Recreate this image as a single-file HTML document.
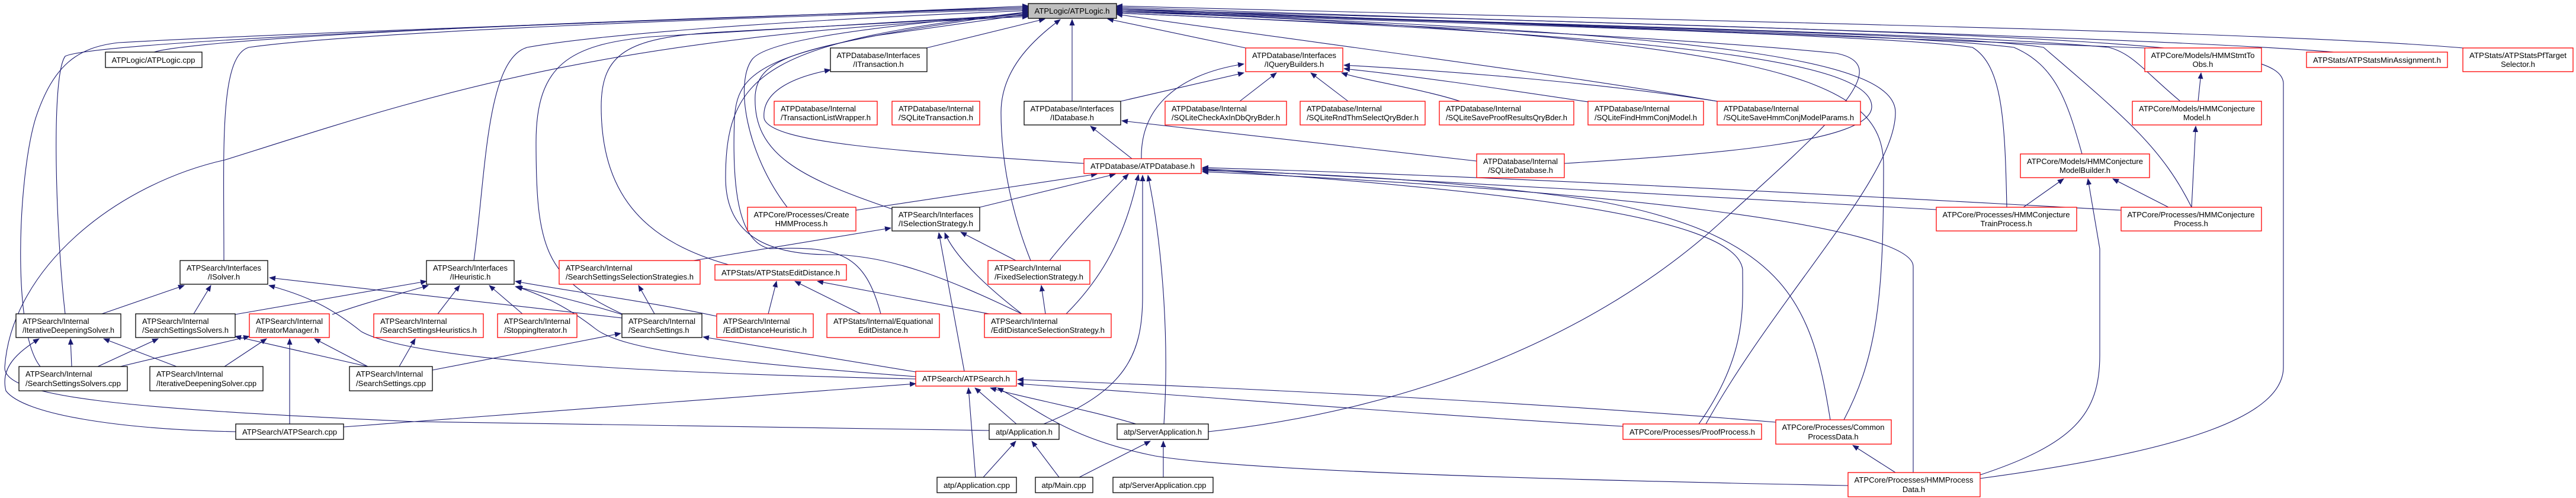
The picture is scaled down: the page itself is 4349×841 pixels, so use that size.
<!DOCTYPE html>
<html><head><meta charset="utf-8"><style>
html,body{margin:0;padding:0;background:#fff;}
svg{display:block;}
text{font-family:"Liberation Sans",Arial,sans-serif;font-size:13px;fill:#000;}
.e{fill:none;stroke:#191970;stroke-width:1.1;marker-end:url(#a);}
.b{fill:#fff;stroke:#000;stroke-width:1.3;}
.r{fill:#fff;stroke:#ff0000;stroke-width:1.3;}
.g{fill:#bfbfbf;stroke:#000;stroke-width:1.3;}
.c{text-anchor:middle;}
</style></head><body>
<svg width="4349" height="841" viewBox="0 0 4349 841" xmlns="http://www.w3.org/2000/svg">
<defs><marker id="a" markerWidth="11" markerHeight="9" refX="10" refY="4.5" orient="auto" markerUnits="userSpaceOnUse"><path d="M0,0 L11,4.5 L0,9 z" fill="#191970"/></marker></defs>
<rect width="4349" height="841" fill="#fff"/>
<g>
<path class="e" d="M260,88 C300,75 600,45 1736,14"/>
<path class="e" d="M378,440 C378,250 370,95 420,80 C600,55 1200,30 1736,16"/>
<path class="e" d="M800,440 C820,300 820,100 890,80 C1000,60 1300,35 1736,18"/>
<path class="e" d="M110,530 C95,400 85,130 110,95 C160,70 900,40 1736,12"/>
<path class="e" d="M68,619 C20,560 30,300 60,200 C90,110 130,80 200,72 C600,50 1300,30 1736,10"/>
<path class="e" d="M1670,727 L700,712 C200,690 5,670 8,620 C20,450 200,310 380,270 C700,170 1000,60 1736,28"/>
<path class="e" d="M1052,531 C920,470 905,420 905,240 C905,110 960,75 1100,62 L1736,24"/>
<path class="e" d="M1230,447 C1100,410 1015,340 1015,180 C1015,90 1060,65 1200,55 L1736,26"/>
<path class="e" d="M1329,350 C1260,260 1240,140 1270,100 C1290,75 1400,50 1736,22"/>
<path class="e" d="M1506,353 C1350,300 1270,260 1275,160 C1280,110 1320,90 1480,60 L1736,24"/>
<path class="e" d="M1487,530 C1460,430 1420,415 1300,420 C1250,410 1235,330 1240,200 C1245,110 1300,80 1736,20"/>
<path class="e" d="M1725,530 C1600,470 1500,430 1400,430 C1300,430 1225,400 1225,300 C1225,120 1300,70 1736,20"/>
<path class="e" d="M1564,81 L1764,32"/>
<path class="e" d="M1810,171 L1810,33"/>
<path class="e" d="M1740,440 C1700,340 1690,250 1690,190 C1690,120 1740,70 1790,33"/>
<path class="e" d="M2103,81 L1870,32"/>
<path class="e" d="M2899,171 C2600,120 2200,70 1885,24"/>
<path class="e" d="M2641,276 C2900,260 3160,240 3160,180 C3160,100 2800,60 1885,22"/>
<path class="e" d="M2880,716 C3000,500 3200,300 3200,190 C3200,100 2900,55 1885,20"/>
<path class="e" d="M3113,709 C3170,600 3180,500 3180,280 C3180,130 3000,65 1885,18"/>
<path class="e" d="M3343,808 C3700,760 3855,700 3855,620 L3855,140 C3850,75 3600,60 1885,16"/>
<path class="e" d="M3621,81 C3200,60 2500,40 1885,14"/>
<path class="e" d="M3940,88 C3600,60 2500,35 1885,12"/>
<path class="e" d="M4158,81 C3800,50 2600,30 1885,10"/>
<path class="e" d="M3681,171 C3620,120 3600,90 3560,80 C3300,55 2500,40 1885,16"/>
<path class="e" d="M3515,260 C3490,170 3470,110 3400,80 C3200,55 2500,40 1885,18"/>
<path class="e" d="M3388,350 C3385,200 3380,110 3330,80 C3200,60 2500,40 1885,20"/>
<path class="e" d="M3700,350 C3650,250 3590,200 3450,80 C3300,55 2500,40 1885,18"/>
<path class="e" d="M2040,729 C2400,690 2700,560 2900,380 C3100,200 3200,110 3100,90 C2800,60 2300,40 1885,22"/>
<path class="e" d="M1830,276 C1500,255 1300,240 1290,200 C1285,150 1350,128 1402,118"/>
<path class="e" d="M1911,268 L1841,213"/>
<path class="e" d="M1892,171 L2100,123"/>
<path class="e" d="M1927,268 C1925,180 1990,125 2100,108"/>
<path class="e" d="M2093,171 L2155,123"/>
<path class="e" d="M2493,272 L1894,204"/>
<path class="e" d="M2276,171 L2213,123"/>
<path class="e" d="M2465,171 C2400,150 2300,135 2265,123"/>
<path class="e" d="M2681,172 C2500,145 2400,130 2269,116"/>
<path class="e" d="M2899,171 C2700,140 2450,120 2269,110"/>
<path class="e" d="M1445,355 L1852,294"/>
<path class="e" d="M1654,350 L1883,294"/>
<path class="e" d="M1715,440 L1622,392"/>
<path class="e" d="M1772,440 C1820,380 1870,330 1905,294"/>
<path class="e" d="M1171,440 L1504,385"/>
<path class="e" d="M1297,530 L1311,475"/>
<path class="e" d="M1453,530 L1342,475"/>
<path class="e" d="M1670,530 L1380,475"/>
<path class="e" d="M1725,530 C1660,480 1610,430 1595,393"/>
<path class="e" d="M1800,530 C1860,470 1900,400 1922,295"/>
<path class="e" d="M1765,530 L1758,482"/>
<path class="e" d="M1628,627 L1585,393"/>
<path class="e" d="M1762,716 C1900,660 1929,600 1929,500 L1929,296"/>
<path class="e" d="M1965,716 C1975,560 1960,400 1938,296"/>
<path class="e" d="M1716,716 L1646,655"/>
<path class="e" d="M1918,716 C1830,690 1720,670 1672,655"/>
<path class="e" d="M1647,806 L1635,655"/>
<path class="e" d="M1660,806 L1715,745"/>
<path class="e" d="M1788,806 L1742,745"/>
<path class="e" d="M1822,806 L1942,745"/>
<path class="e" d="M1964,806 L1964,745"/>
<path class="e" d="M3120,820 C2600,810 2100,795 1950,770 C1800,740 1750,690 1684,655"/>
<path class="e" d="M2998,713 C2600,680 2100,655 1718,641"/>
<path class="e" d="M2740,720 C2400,700 2100,675 1718,648"/>
<path class="e" d="M2868,716 C2950,600 2942,520 2942,455 C2930,360 2500,320 2030,286"/>
<path class="e" d="M3090,709 C3060,520 3020,400 2700,340 C2500,310 2300,295 2030,288"/>
<path class="e" d="M3230,798 L3230,450 C3230,380 2700,320 2030,290"/>
<path class="e" d="M3200,798 L3128,752"/>
<path class="e" d="M3343,802 C3500,750 3545,700 3545,600 L3545,420 L3525,302"/>
<path class="e" d="M3416,350 L3484,302"/>
<path class="e" d="M3661,350 L3567,302"/>
<path class="e" d="M3700,350 L3707,213"/>
<path class="e" d="M3711,171 L3716,123"/>
<path class="e" d="M3269,354 C3000,340 2500,310 2030,285"/>
<path class="e" d="M3581,355 C3200,335 2600,300 2030,283"/>
<path class="e" d="M1050,537 L455,469"/>
<path class="e" d="M1050,531 C1000,515 920,495 870,484"/>
<path class="e" d="M1210,534 C1100,510 950,490 870,475"/>
<path class="e" d="M397,531 L720,475"/>
<path class="e" d="M561,531 C620,510 680,495 723,482"/>
<path class="e" d="M739,530 L776,482"/>
<path class="e" d="M882,530 L826,482"/>
<path class="e" d="M172,530 L311,482"/>
<path class="e" d="M327,530 L356,482"/>
<path class="e" d="M121,619 L119,572"/>
<path class="e" d="M298,619 L175,572"/>
<path class="e" d="M165,619 L267,572"/>
<path class="e" d="M621,619 L397,568"/>
<path class="e" d="M203,619 C280,600 350,585 421,568"/>
<path class="e" d="M379,619 L450,572"/>
<path class="e" d="M621,619 L531,572"/>
<path class="e" d="M489,716 L489,572"/>
<path class="e" d="M674,619 L701,572"/>
<path class="e" d="M730,625 L1048,563"/>
<path class="e" d="M1105,530 L1078,482"/>
<path class="e" d="M398,729 C200,725 40,700 10,660 C0,620 30,595 66,572"/>
<path class="e" d="M580,721 L1546,648"/>
<path class="e" d="M1546,640 C1100,630 700,610 610,560 C560,520 520,500 454,482"/>
<path class="e" d="M1546,636 C1200,610 1050,590 1005,555 C960,520 920,500 872,484"/>
<path class="e" d="M1546,628 L1187,569"/>
</g>
<g>
<rect class="g" x="1736" y="6" width="149" height="25"/><text class="c" x="1810" y="23" textLength="127" lengthAdjust="spacingAndGlyphs">ATPLogic/ATPLogic.h</text>
<rect class="b" x="178" y="88" width="163" height="26"/><text class="c" x="259" y="106" textLength="141" lengthAdjust="spacingAndGlyphs">ATPLogic/ATPLogic.cpp</text>
<rect class="b" x="1402" y="81" width="163" height="40"/><text class="c" x="1483" y="98" textLength="141" lengthAdjust="spacingAndGlyphs">ATPDatabase/Interfaces</text><text class="c" x="1483" y="113">/ITransaction.h</text>
<rect class="r" x="2103" y="81" width="164" height="40"/><text class="c" x="2185" y="98" textLength="142" lengthAdjust="spacingAndGlyphs">ATPDatabase/Interfaces</text><text class="c" x="2185" y="113">/IQueryBuilders.h</text>
<rect class="r" x="3621" y="81" width="197" height="40"/><text class="c" x="3719" y="98" textLength="175" lengthAdjust="spacingAndGlyphs">ATPCore/Models/HMMStmtTo</text><text class="c" x="3719" y="113">Obs.h</text>
<rect class="r" x="3894" y="88" width="238" height="26"/><text class="c" x="4013" y="106" textLength="216" lengthAdjust="spacingAndGlyphs">ATPStats/ATPStatsMinAssignment.h</text>
<rect class="r" x="4158" y="81" width="186" height="40"/><text class="c" x="4251" y="98" textLength="164" lengthAdjust="spacingAndGlyphs">ATPStats/ATPStatsPfTarget</text><text class="c" x="4251" y="113">Selector.h</text>
<rect class="r" x="1307" y="171" width="174" height="40"/><text x="1318" y="188">ATPDatabase/Internal</text><text x="1318" y="203" textLength="152" lengthAdjust="spacingAndGlyphs">/TransactionListWrapper.h</text>
<rect class="r" x="1506" y="171" width="148" height="40"/><text x="1517" y="188">ATPDatabase/Internal</text><text x="1517" y="203" textLength="126" lengthAdjust="spacingAndGlyphs">/SQLiteTransaction.h</text>
<rect class="b" x="1729" y="171" width="163" height="40"/><text class="c" x="1810" y="188" textLength="141" lengthAdjust="spacingAndGlyphs">ATPDatabase/Interfaces</text><text class="c" x="1810" y="203">/IDatabase.h</text>
<rect class="r" x="1967" y="171" width="205" height="40"/><text x="1978" y="188">ATPDatabase/Internal</text><text x="1978" y="203" textLength="183" lengthAdjust="spacingAndGlyphs">/SQLiteCheckAxInDbQryBder.h</text>
<rect class="r" x="2195" y="171" width="211" height="40"/><text x="2206" y="188">ATPDatabase/Internal</text><text x="2206" y="203" textLength="189" lengthAdjust="spacingAndGlyphs">/SQLiteRndThmSelectQryBder.h</text>
<rect class="r" x="2430" y="171" width="227" height="40"/><text x="2441" y="188">ATPDatabase/Internal</text><text x="2441" y="203" textLength="205" lengthAdjust="spacingAndGlyphs">/SQLiteSaveProofResultsQryBder.h</text>
<rect class="r" x="2681" y="171" width="195" height="40"/><text x="2692" y="188">ATPDatabase/Internal</text><text x="2692" y="203" textLength="173" lengthAdjust="spacingAndGlyphs">/SQLiteFindHmmConjModel.h</text>
<rect class="r" x="2899" y="171" width="242" height="40"/><text x="2910" y="188">ATPDatabase/Internal</text><text x="2910" y="203" textLength="220" lengthAdjust="spacingAndGlyphs">/SQLiteSaveHmmConjModelParams.h</text>
<rect class="r" x="3600" y="171" width="218" height="40"/><text class="c" x="3709" y="188" textLength="196" lengthAdjust="spacingAndGlyphs">ATPCore/Models/HMMConjecture</text><text class="c" x="3709" y="203">Model.h</text>
<rect class="r" x="1830" y="268" width="198" height="25"/><text class="c" x="1929" y="285" textLength="176" lengthAdjust="spacingAndGlyphs">ATPDatabase/ATPDatabase.h</text>
<rect class="r" x="2493" y="260" width="148" height="40"/><text class="c" x="2567" y="277" textLength="126" lengthAdjust="spacingAndGlyphs">ATPDatabase/Internal</text><text class="c" x="2567" y="292">/SQLiteDatabase.h</text>
<rect class="r" x="3411" y="260" width="218" height="40"/><text class="c" x="3520" y="277" textLength="196" lengthAdjust="spacingAndGlyphs">ATPCore/Models/HMMConjecture</text><text class="c" x="3520" y="292">ModelBuilder.h</text>
<rect class="r" x="1262" y="350" width="183" height="40"/><text class="c" x="1353" y="367" textLength="161" lengthAdjust="spacingAndGlyphs">ATPCore/Processes/Create</text><text class="c" x="1353" y="382">HMMProcess.h</text>
<rect class="b" x="1506" y="350" width="148" height="40"/><text class="c" x="1580" y="367">ATPSearch/Interfaces</text><text class="c" x="1580" y="382" textLength="126" lengthAdjust="spacingAndGlyphs">/ISelectionStrategy.h</text>
<rect class="r" x="3269" y="350" width="237" height="40"/><text class="c" x="3387" y="367" textLength="215" lengthAdjust="spacingAndGlyphs">ATPCore/Processes/HMMConjecture</text><text class="c" x="3387" y="382">TrainProcess.h</text>
<rect class="r" x="3581" y="350" width="237" height="40"/><text class="c" x="3699" y="367" textLength="215" lengthAdjust="spacingAndGlyphs">ATPCore/Processes/HMMConjecture</text><text class="c" x="3699" y="382">Process.h</text>
<rect class="b" x="304" y="440" width="148" height="40"/><text class="c" x="378" y="457" textLength="126" lengthAdjust="spacingAndGlyphs">ATPSearch/Interfaces</text><text class="c" x="378" y="472">/ISolver.h</text>
<rect class="b" x="720" y="440" width="148" height="40"/><text class="c" x="794" y="457" textLength="126" lengthAdjust="spacingAndGlyphs">ATPSearch/Interfaces</text><text class="c" x="794" y="472">/IHeuristic.h</text>
<rect class="r" x="944" y="440" width="238" height="40"/><text x="955" y="457">ATPSearch/Internal</text><text x="955" y="472" textLength="216" lengthAdjust="spacingAndGlyphs">/SearchSettingsSelectionStrategies.h</text>
<rect class="r" x="1207" y="447" width="222" height="26"/><text class="c" x="1318" y="465" textLength="200" lengthAdjust="spacingAndGlyphs">ATPStats/ATPStatsEditDistance.h</text>
<rect class="r" x="1668" y="440" width="172" height="40"/><text x="1679" y="457">ATPSearch/Internal</text><text x="1679" y="472" textLength="150" lengthAdjust="spacingAndGlyphs">/FixedSelectionStrategy.h</text>
<rect class="b" x="27" y="530" width="177" height="40"/><text x="38" y="547">ATPSearch/Internal</text><text x="38" y="562" textLength="155" lengthAdjust="spacingAndGlyphs">/IterativeDeepeningSolver.h</text>
<rect class="b" x="229" y="530" width="168" height="40"/><text x="240" y="547">ATPSearch/Internal</text><text x="240" y="562" textLength="146" lengthAdjust="spacingAndGlyphs">/SearchSettingsSolvers.h</text>
<rect class="r" x="421" y="530" width="135" height="40"/><text x="432" y="547" textLength="113" lengthAdjust="spacingAndGlyphs">ATPSearch/Internal</text><text x="432" y="562">/IteratorManager.h</text>
<rect class="r" x="631" y="530" width="185" height="40"/><text x="642" y="547">ATPSearch/Internal</text><text x="642" y="562" textLength="163" lengthAdjust="spacingAndGlyphs">/SearchSettingsHeuristics.h</text>
<rect class="r" x="840" y="530" width="134" height="40"/><text x="851" y="547" textLength="112" lengthAdjust="spacingAndGlyphs">ATPSearch/Internal</text><text x="851" y="562">/StoppingIterator.h</text>
<rect class="b" x="1050" y="530" width="135" height="40"/><text x="1061" y="547" textLength="113" lengthAdjust="spacingAndGlyphs">ATPSearch/Internal</text><text x="1061" y="562">/SearchSettings.h</text>
<rect class="r" x="1210" y="530" width="163" height="40"/><text x="1221" y="547">ATPSearch/Internal</text><text x="1221" y="562" textLength="141" lengthAdjust="spacingAndGlyphs">/EditDistanceHeuristic.h</text>
<rect class="r" x="1396" y="530" width="190" height="40"/><text class="c" x="1491" y="547" textLength="168" lengthAdjust="spacingAndGlyphs">ATPStats/Internal/Equational</text><text class="c" x="1491" y="562">EditDistance.h</text>
<rect class="r" x="1662" y="530" width="214" height="40"/><text x="1673" y="547">ATPSearch/Internal</text><text x="1673" y="562" textLength="192" lengthAdjust="spacingAndGlyphs">/EditDistanceSelectionStrategy.h</text>
<rect class="b" x="32" y="619" width="183" height="41"/><text x="43" y="636">ATPSearch/Internal</text><text x="43" y="652" textLength="161" lengthAdjust="spacingAndGlyphs">/SearchSettingsSolvers.cpp</text>
<rect class="b" x="253" y="619" width="191" height="41"/><text x="264" y="636">ATPSearch/Internal</text><text x="264" y="652" textLength="169" lengthAdjust="spacingAndGlyphs">/IterativeDeepeningSolver.cpp</text>
<rect class="b" x="590" y="619" width="140" height="41"/><text x="601" y="636" textLength="113" lengthAdjust="spacingAndGlyphs">ATPSearch/Internal</text><text x="601" y="652" textLength="118" lengthAdjust="spacingAndGlyphs">/SearchSettings.cpp</text>
<rect class="r" x="1546" y="627" width="170" height="25"/><text class="c" x="1631" y="644" textLength="148" lengthAdjust="spacingAndGlyphs">ATPSearch/ATPSearch.h</text>
<rect class="r" x="2740" y="716" width="234" height="26"/><text class="c" x="2857" y="734" textLength="212" lengthAdjust="spacingAndGlyphs">ATPCore/Processes/ProofProcess.h</text>
<rect class="r" x="2998" y="709" width="195" height="41"/><text class="c" x="3095" y="726" textLength="173" lengthAdjust="spacingAndGlyphs">ATPCore/Processes/Common</text><text class="c" x="3095" y="742">ProcessData.h</text>
<rect class="b" x="398" y="716" width="182" height="26"/><text class="c" x="489" y="734" textLength="160" lengthAdjust="spacingAndGlyphs">ATPSearch/ATPSearch.cpp</text>
<rect class="b" x="1670" y="716" width="118" height="26"/><text class="c" x="1729" y="734" textLength="96" lengthAdjust="spacingAndGlyphs">atp/Application.h</text>
<rect class="b" x="1886" y="716" width="154" height="26"/><text class="c" x="1963" y="734" textLength="132" lengthAdjust="spacingAndGlyphs">atp/ServerApplication.h</text>
<rect class="r" x="3120" y="798" width="223" height="41"/><text class="c" x="3231" y="815" textLength="201" lengthAdjust="spacingAndGlyphs">ATPCore/Processes/HMMProcess</text><text class="c" x="3231" y="831">Data.h</text>
<rect class="b" x="1582" y="806" width="134" height="26"/><text class="c" x="1649" y="824" textLength="112" lengthAdjust="spacingAndGlyphs">atp/Application.cpp</text>
<rect class="b" x="1748" y="806" width="97" height="26"/><text class="c" x="1796" y="824" textLength="75" lengthAdjust="spacingAndGlyphs">atp/Main.cpp</text>
<rect class="b" x="1879" y="806" width="169" height="26"/><text class="c" x="1963" y="824" textLength="147" lengthAdjust="spacingAndGlyphs">atp/ServerApplication.cpp</text>
</g>
</svg>
</body></html>
